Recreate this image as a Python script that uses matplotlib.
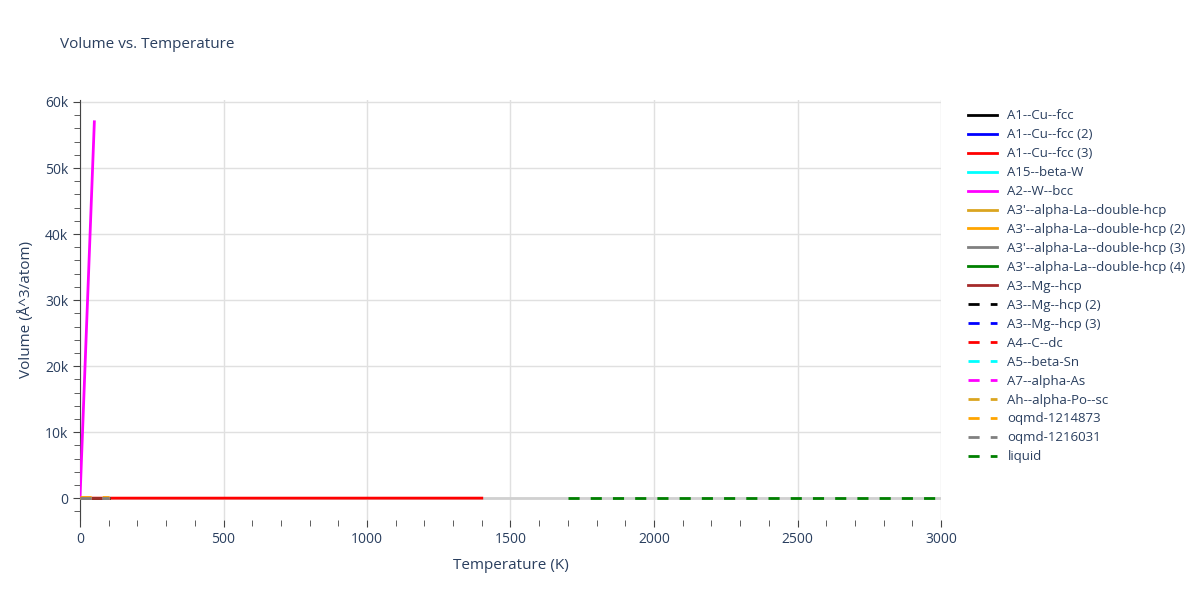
import matplotlib
matplotlib.use("Agg")
import matplotlib.pyplot as plt
from matplotlib.ticker import FuncFormatter, MultipleLocator

plt.rcParams['font.family'] = ['Open Sans', 'DejaVu Sans']

names = ["A1--Cu--fcc", "A1--Cu--fcc (2)", "A1--Cu--fcc (3)", "A15--beta-W", "A2--W--bcc",
         "A3'--alpha-La--double-hcp", "A3'--alpha-La--double-hcp (2)", "A3'--alpha-La--double-hcp (3)",
         "A3'--alpha-La--double-hcp (4)", "A3--Mg--hcp", "A3--Mg--hcp (2)", "A3--Mg--hcp (3)",
         "A4--C--dc", "A5--beta-Sn", "A7--alpha-As", "Ah--alpha-Po--sc", "oqmd-1214873", "oqmd-1216031", "liquid"]
colors = ["black", "blue", "red", "cyan", "magenta", "goldenrod", "orange", "gray", "green", "brown",
          "black", "blue", "red", "cyan", "magenta", "goldenrod", "orange", "gray", "green"]
dashed = [False]*10 + [True]*9

temps = {
    "A1--Cu--fcc": [0, 50, 100], "A1--Cu--fcc (2)": [0, 50, 100], "A1--Cu--fcc (3)": [0, 700, 1400],
    "A15--beta-W": [0, 50, 100], "A2--W--bcc": [0, 10, 20, 30, 40, 50],
    "A3'--alpha-La--double-hcp": [0, 50, 100], "A3'--alpha-La--double-hcp (2)": [0, 50, 100],
    "A3'--alpha-La--double-hcp (3)": [0, 50, 100], "A3'--alpha-La--double-hcp (4)": [0, 50, 100],
    "A3--Mg--hcp": [0, 50, 100], "A3--Mg--hcp (2)": [0, 50, 100], "A3--Mg--hcp (3)": [0, 50, 100],
    "A4--C--dc": [0, 50, 100], "A5--beta-Sn": [0, 50, 100], "A7--alpha-As": [0, 50, 100],
    "Ah--alpha-Po--sc": [0, 50, 100], "oqmd-1214873": [0, 50, 100], "oqmd-1216031": [0, 50, 100],
    "liquid": [1700, 2350, 3000],
}
volumes = {
    "A1--Cu--fcc": [12, 12, 12], "A1--Cu--fcc (2)": [12, 12, 12], "A1--Cu--fcc (3)": [12, 13, 14],
    "A15--beta-W": [15, 15, 15], "A2--W--bcc": [16, 11400, 22800, 34200, 45600, 57000],
    "A3'--alpha-La--double-hcp": [40, 40, 40], "A3'--alpha-La--double-hcp (2)": [40, 40, 40],
    "A3'--alpha-La--double-hcp (3)": [40, 40, 40], "A3'--alpha-La--double-hcp (4)": [40, 40, 40],
    "A3--Mg--hcp": [20, 20, 20], "A3--Mg--hcp (2)": [20, 20, 20], "A3--Mg--hcp (3)": [20, 20, 20],
    "A4--C--dc": [25, 25, 25], "A5--beta-Sn": [25, 25, 25], "A7--alpha-As": [25, 25, 25],
    "Ah--alpha-Po--sc": [30, 30, 30], "oqmd-1214873": [200, 200, 200], "oqmd-1216031": [30, 30, 30],
    "liquid": [15, 15, 15],
}

fig = plt.figure(figsize=(12, 6), dpi=100)
ax = fig.add_axes([80/1200, 80/600, 861/1200, 420/600])
txt = "#2a3f5f"
ax.axhline(0, color="#d0d0d0", lw=2, zorder=1)
for n, c, d in zip(names, colors, dashed):
    ax.plot(temps[n], volumes[n], color=c, lw=2, ls=(0, (4, 4)) if d else "-", label=n, zorder=3)
ax.set_xlim(0, 3000)
ax.set_ylim(-3300, 60300)
ax.grid(True, color="#e0e0e0", lw=1)
ax.set_axisbelow(True)
for s in ["top", "right", "bottom"]:
    ax.spines[s].set_visible(False)
ax.spines["left"].set_color("#444444")
ax.yaxis.set_major_locator(MultipleLocator(10000))
ax.yaxis.set_minor_locator(MultipleLocator(2000))
ax.xaxis.set_minor_locator(MultipleLocator(100))
ax.yaxis.set_major_formatter(FuncFormatter(lambda v, p: "0" if v == 0 else f"{int(v/1000)}k"))
ax.tick_params(axis="both", colors="#444444", labelcolor=txt, labelsize=10, length=5)
ax.tick_params(which="minor", colors="#444444", length=4)
ax.set_xlabel("Temperature (K)", color=txt, fontsize=11, labelpad=8)
ax.set_ylabel("Volume (Å^3/atom)", color=txt, fontsize=11, labelpad=8)
fig.text(60/1200, 1-45/600, "Volume vs. Temperature", color=txt, fontsize=11, va="center")
ax.legend(loc="upper left", bbox_to_anchor=(1.025, 0.99), frameon=False, fontsize=9.5,
          labelcolor=txt, handlelength=2.2, labelspacing=0.45, borderaxespad=0)
fig.savefig("out.png")
